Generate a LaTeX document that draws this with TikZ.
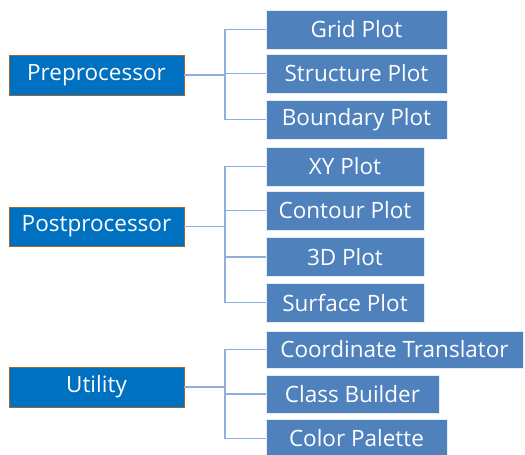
\documentclass[tikz,border=0pt]{standalone}
\usepackage{fontspec}
\setmainfont{Open Sans}
\definecolor{parentfill}{HTML}{0070C0}
\definecolor{parentline}{HTML}{A0652F}
\definecolor{childfill}{HTML}{4F81BD}
\definecolor{linkcol}{HTML}{8EAEDB}
\tikzset{
  parent/.style={draw=parentline, line width=0.8pt, fill=parentfill, text=white,
    minimum width=175pt, minimum height=40pt, inner sep=0pt, font=\fontsize{22.5}{24}\selectfont},
  child/.style={draw=white!85!childfill, line width=0.6pt, fill=childfill, text=white,
    minimum height=39pt, inner sep=0pt, font=\fontsize{22.5}{24}\selectfont},
  link/.style={draw=linkcol, line width=1.6pt}
}
\begin{document}
\begin{tikzpicture}[x=1pt,y=-1pt]
\useasboundingbox (0,0) rectangle (525,455);
\node[parent] (pre) at (96.5,75) {Preprocessor};
\node[parent, minimum height=39pt] (post) at (96.5,226.5) {Postprocessor};
\node[parent] (util) at (96.5,387) {Utility};

\node[child, minimum width=181pt] (grid) at (356.5,29.5) {Grid Plot};
\node[child, minimum width=181pt] (struct) at (356.5,73.5) {Structure Plot};
\node[child, minimum width=181pt] (bound) at (356.5,119.5) {Boundary Plot};

\node[child, minimum width=158pt] (xy) at (345,166.5) {XY Plot};
\node[child, minimum width=158pt] (cont) at (345,210.5) {Contour Plot};
\node[child, minimum width=158pt] (threed) at (345,257) {3D Plot};
\node[child, minimum width=158pt] (surf) at (345,302.5) {Surface Plot};

\node[child, minimum width=257pt, minimum height=37pt] (coord) at (394.5,349.5) {Coordinate Translator};
\node[child, minimum width=173pt, minimum height=38pt] (cls) at (352.5,394) {Class Builder};
\node[child, minimum width=181pt] (pal) at (356.5,438.5) {Color Palette};

\coordinate (j1) at (225,75);
\coordinate (j2) at (225,226.5);
\coordinate (j3) at (225,387);

\draw[link] (pre.east) -- (j1);
\foreach \c in {grid,struct,bound} \draw[link] (j1) |- (\c.west);
\draw[link] (post.east) -- (j2);
\foreach \c in {xy,cont,threed,surf} \draw[link] (j2) |- (\c.west);
\draw[link] (util.east) -- (j3);
\foreach \c in {coord,cls,pal} \draw[link] (j3) |- (\c.west);
\end{tikzpicture}
\end{document}
